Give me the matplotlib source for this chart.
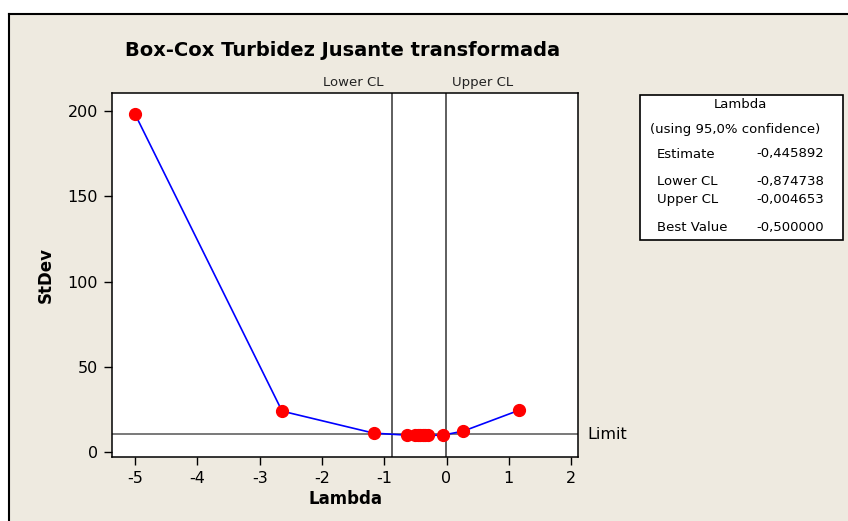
import matplotlib.pyplot as plt
from matplotlib.patches import Rectangle
from matplotlib.lines import Line2D

# Box-Cox search points (lambda, StDev)
lambdas = [-5.0, -2.64, -1.17, -0.63, -0.50, -0.46, -0.42, -0.38, -0.34, -0.29, -0.06, 0.27, 1.17]
stdevs = [198.2, 24.0, 11.1, 9.9, 9.8, 9.8, 9.8, 9.8, 9.8, 9.8, 9.9, 12.3, 24.6]

estimate = -0.445892
lower_cl = -0.874738
upper_cl = -0.004653
best_value = -0.500000
limit = 10.5

xticks = [-5, -4, -3, -2, -1, 0, 1, 2]
yticks = [0, 50, 100, 150, 200]

bg = '#EEEAE0'
W, H = 848, 521

fig = plt.figure(figsize=(W / 100, H / 100), dpi=100, facecolor='white')

# beige panel with black top/left edge
fig.patches.append(Rectangle((9 / W, 0), 1 - 9 / W, 1 - 14 / H, transform=fig.transFigure,
                             facecolor=bg, edgecolor='none', zorder=-1))
fig.lines.append(Line2D([9 / W, 1], [1 - 14 / H, 1 - 14 / H], transform=fig.transFigure,
                        color='black', lw=1.5))
fig.lines.append(Line2D([9 / W, 9 / W], [0, 1 - 14 / H], transform=fig.transFigure,
                        color='black', lw=1.5))

ax = fig.add_axes([112 / W, 1 - 457 / H, (578 - 112) / W, (457 - 93) / H])
ax.set_zorder(3)
ax.set_facecolor('white')
ax.plot(lambdas, stdevs, color='#0000FF', lw=1.2, zorder=3)
ax.plot(lambdas, stdevs, 'o', color='#FF0000', ms=8.5, mec='#FF0000', zorder=4)

ax.axvline(lower_cl, color='#333333', lw=1.1, zorder=2)
ax.axvline(upper_cl, color='#333333', lw=1.1, zorder=2)
ax.axhline(limit, color='#555555', lw=1.1, zorder=2)

ax.set_xlim(-5.37, 2.11)
ax.set_ylim(-2.9, 210.6)
ax.set_xticks(xticks)
ax.set_xticklabels([str(t) for t in xticks])
ax.set_yticks(yticks)
ax.tick_params(direction='out', length=6, width=1, labelsize=11.5, pad=4)
for s in ax.spines.values():
    s.set_linewidth(1.1)

ax.set_xlabel('Lambda', fontsize=12, fontweight='bold', labelpad=3)
ax.set_ylabel('StDev', fontsize=12, fontweight='bold', labelpad=9)

ax.text(lower_cl - 0.13, 1.01, 'Lower CL', transform=ax.get_xaxis_transform(),
        ha='right', va='bottom', fontsize=9.5, color='#222222')
ax.text(upper_cl + 0.1, 1.01, 'Upper CL', transform=ax.get_xaxis_transform(),
        ha='left', va='bottom', fontsize=9.5, color='#222222')
ax.text(1.02, limit, 'Limit', transform=ax.get_yaxis_transform(),
        ha='left', va='center', fontsize=11.5, clip_on=False)

fig.text(125 / W, 1 - 51 / H, 'Box-Cox Turbidez Jusante transformada',
         fontsize=14, fontweight='bold', ha='left', va='center')

# Lambda summary box
lx0, ly0, lx1, ly1 = 640, 95, 843, 240
fig.patches.append(Rectangle((lx0 / W, 1 - ly1 / H), (lx1 - lx0) / W, (ly1 - ly0) / H,
                             transform=fig.transFigure, facecolor='white',
                             edgecolor='black', lw=1.2, zorder=1))
fs = 9.5
fig.text(740 / W, 1 - 105 / H, 'Lambda', fontsize=fs, ha='center', va='center')
fig.text(735 / W, 1 - 129 / H, '(using 95,0% confidence)', fontsize=fs, ha='center', va='center')
rows = [('Estimate', estimate, 154), ('Lower CL', lower_cl, 182),
        ('Upper CL', upper_cl, 200), ('Best Value', best_value, 228)]
for name, val, y in rows:
    fig.text(657 / W, 1 - y / H, name, fontsize=fs, ha='left', va='center')
    fig.text(824 / W, 1 - y / H, f'{val:.6f}'.replace('.', ','), fontsize=fs,
             ha='right', va='center')

fig.savefig('out.png', dpi=100, facecolor=fig.get_facecolor())
